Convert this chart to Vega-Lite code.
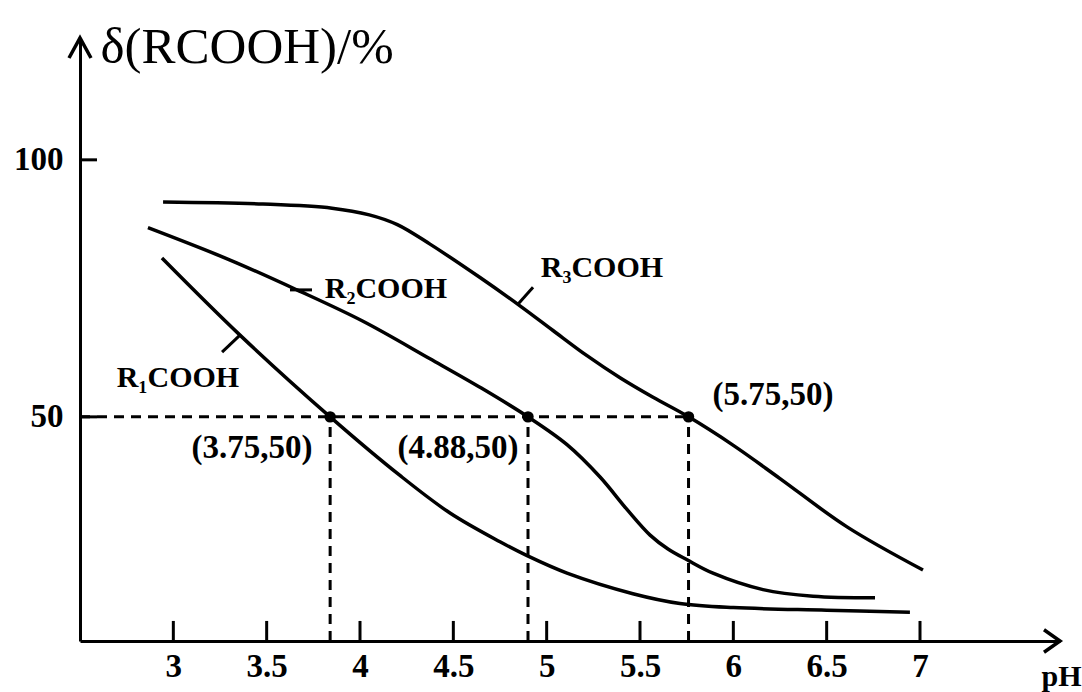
{
  "$schema": "https://vega.github.io/schema/vega-lite/v6.json",
  "width": 980,
  "height": 603,
  "autosize": {"type": "none"},
  "padding": {"left": 80, "top": 38, "right": 22, "bottom": 51},
  "background": "white",
  "config": {
    "view": {"stroke": null},
    "font": "Liberation Serif",
    "axis": {
      "grid": false,
      "ticks": false,
      "domainColor": "black",
      "domainWidth": 3,
      "labelColor": "black",
      "labelFont": "Liberation Serif",
      "labelFontWeight": "bold",
      "labelFontSize": 33,
      "titleColor": "black",
      "titleFont": "Liberation Serif"
    }
  },
  "datasets": {
    "curves": [
      {"series": "R3", "ph": 2.945, "pct": 91.8},
      {"series": "R3", "ph": 3.48, "pct": 91.4},
      {"series": "R3", "ph": 3.85, "pct": 90.6},
      {"series": "R3", "ph": 4.05, "pct": 89.3},
      {"series": "R3", "ph": 4.2, "pct": 87.4},
      {"series": "R3", "ph": 4.375, "pct": 83.6},
      {"series": "R3", "ph": 4.643, "pct": 77.1},
      {"series": "R3", "ph": 4.857, "pct": 71.6},
      {"series": "R3", "ph": 5.034, "pct": 66.8},
      {"series": "R3", "ph": 5.216, "pct": 61.9},
      {"series": "R3", "ph": 5.393, "pct": 57.6},
      {"series": "R3", "ph": 5.57, "pct": 53.8},
      {"series": "R3", "ph": 5.76, "pct": 50.0},
      {"series": "R3", "ph": 5.998, "pct": 44.5},
      {"series": "R3", "ph": 6.25, "pct": 38.0},
      {"series": "R3", "ph": 6.609, "pct": 28.6},
      {"series": "R3", "ph": 7.016, "pct": 20.2},
      {"series": "R2", "ph": 2.864, "pct": 86.8},
      {"series": "R2", "ph": 3.304, "pct": 80.5},
      {"series": "R2", "ph": 3.662, "pct": 74.7},
      {"series": "R2", "ph": 4.016, "pct": 68.6},
      {"series": "R2", "ph": 4.375, "pct": 61.3},
      {"series": "R2", "ph": 4.65, "pct": 55.6},
      {"series": "R2", "ph": 4.9, "pct": 50.0},
      {"series": "R2", "ph": 5.109, "pct": 44.6},
      {"series": "R2", "ph": 5.286, "pct": 38.3},
      {"series": "R2", "ph": 5.43, "pct": 32.0},
      {"series": "R2", "ph": 5.554, "pct": 27.0},
      {"series": "R2", "ph": 5.65, "pct": 24.3},
      {"series": "R2", "ph": 5.752, "pct": 22.2},
      {"series": "R2", "ph": 5.891, "pct": 19.6},
      {"series": "R2", "ph": 6.159, "pct": 16.4},
      {"series": "R2", "ph": 6.427, "pct": 15.1},
      {"series": "R2", "ph": 6.759, "pct": 14.8},
      {"series": "R1", "ph": 2.939, "pct": 80.9},
      {"series": "R1", "ph": 3.357, "pct": 65.9},
      {"series": "R1", "ph": 3.84, "pct": 50.0},
      {"series": "R1", "ph": 4.214, "pct": 38.6},
      {"series": "R1", "ph": 4.482, "pct": 31.3},
      {"series": "R1", "ph": 4.75, "pct": 25.7},
      {"series": "R1", "ph": 4.895, "pct": 23.0},
      {"series": "R1", "ph": 5.109, "pct": 19.6},
      {"series": "R1", "ph": 5.462, "pct": 15.6},
      {"series": "R1", "ph": 5.714, "pct": 13.7},
      {"series": "R1", "ph": 6.0, "pct": 12.9},
      {"series": "R1", "ph": 6.5, "pct": 12.4},
      {"series": "R1", "ph": 6.946, "pct": 12.0}
    ],
    "guides": [
      {"x": 2.5, "x2": 5.76, "y": 50, "y2": 50},
      {"x": 3.84, "x2": 3.84, "y": 6.4, "y2": 50},
      {"x": 4.9, "x2": 4.9, "y": 6.4, "y2": 50},
      {"x": 5.76, "x2": 5.76, "y": 6.4, "y2": 50}
    ],
    "tickmarks": [
      {"x": 3, "x2": 3, "y": 6.4, "y2": 10.3},
      {"x": 3.5, "x2": 3.5, "y": 6.4, "y2": 10.3},
      {"x": 4, "x2": 4, "y": 6.4, "y2": 10.3},
      {"x": 4.5, "x2": 4.5, "y": 6.4, "y2": 10.3},
      {"x": 5, "x2": 5, "y": 6.4, "y2": 10.3},
      {"x": 5.5, "x2": 5.5, "y": 6.4, "y2": 10.3},
      {"x": 6, "x2": 6, "y": 6.4, "y2": 10.3},
      {"x": 6.5, "x2": 6.5, "y": 6.4, "y2": 10.3},
      {"x": 7, "x2": 7, "y": 6.4, "y2": 10.3},
      {"x": 2.5, "x2": 2.591, "y": 50, "y2": 50},
      {"x": 2.5, "x2": 2.591, "y": 100, "y2": 100}
    ],
    "halfpoints": [
      {"ph": 3.84, "pct": 50, "label": "(3.75,50)", "lx": 3.421, "ly": 43.9},
      {"ph": 4.9, "pct": 50, "label": "(4.88,50)", "lx": 4.525, "ly": 43.9},
      {"ph": 5.76, "pct": 50, "label": "(5.75,50)", "lx": 6.212, "ly": 54.3}
    ],
    "names": [
      {"name": "R₁COOH", "lx": 3.025, "ly": 57.6, "x": 3.357, "y": 65.9, "x2": 3.261, "y2": 62.6},
      {"name": "R₂COOH", "lx": 4.139, "ly": 74.9, "x": 3.625, "y": 74.7, "x2": 3.743, "y2": 74.7},
      {"name": "R₃COOH", "lx": 5.296, "ly": 79.0, "x": 4.846, "y": 71.9, "x2": 4.927, "y2": 75.2}
    ],
    "arrows": [
      {"dir": "up", "ph": 2.5, "pct": 123.7},
      {"dir": "right", "ph": 7.75, "pct": 6.4}
    ]
  },
  "layer": [
    {
      "data": {"name": "curves"},
      "mark": {"type": "line", "color": "black", "strokeWidth": 3.5, "interpolate": "catmull-rom"},
      "encoding": {
        "x": {
          "field": "ph", "type": "quantitative",
          "scale": {"domain": [2.5, 7.75], "nice": false, "zero": false},
          "axis": {
            "values": [3, 3.5, 4, 4.5, 5, 5.5, 6, 6.5, 7],
            "labelExpr": "'' + datum.value",
            "labelPadding": 9,
            "title": "pH",
            "titleFontSize": 30,
            "titleFontWeight": "bold",
            "titleAngle": 0,
            "titleAlign": "center",
            "titleBaseline": "alphabetic",
            "titleX": 981,
            "titleY": 44
          }
        },
        "y": {
          "field": "pct", "type": "quantitative",
          "scale": {"domain": [6.4, 123.7], "nice": false, "zero": false},
          "axis": {
            "values": [50, 100],
            "labelPadding": 17,
            "title": "δ(RCOOH)/%",
            "titleFontSize": 51,
            "titleFontWeight": "normal",
            "titleAngle": 0,
            "titleAlign": "left",
            "titleBaseline": "alphabetic",
            "titleX": 20,
            "titleY": 24
          }
        },
        "detail": {"field": "series", "type": "nominal"}
      }
    },
    {
      "data": {"name": "tickmarks"},
      "mark": {"type": "rule", "color": "black", "strokeWidth": 3},
      "encoding": {
        "x": {"field": "x", "type": "quantitative"},
        "x2": {"field": "x2"},
        "y": {"field": "y", "type": "quantitative"},
        "y2": {"field": "y2"}
      }
    },
    {
      "data": {"name": "guides"},
      "mark": {"type": "rule", "color": "black", "strokeWidth": 3, "strokeDash": [10, 7]},
      "encoding": {
        "x": {"field": "x", "type": "quantitative"},
        "x2": {"field": "x2"},
        "y": {"field": "y", "type": "quantitative"},
        "y2": {"field": "y2"}
      }
    },
    {
      "data": {"name": "halfpoints"},
      "mark": {"type": "point", "filled": true, "color": "black", "size": 130, "opacity": 1},
      "encoding": {
        "x": {"field": "ph", "type": "quantitative"},
        "y": {"field": "pct", "type": "quantitative"}
      }
    },
    {
      "data": {"name": "halfpoints"},
      "mark": {"type": "text", "color": "black", "font": "Liberation Serif", "fontWeight": "bold", "fontSize": 33, "align": "center", "baseline": "middle"},
      "encoding": {
        "x": {"field": "lx", "type": "quantitative"},
        "y": {"field": "ly", "type": "quantitative"},
        "text": {"field": "label"}
      }
    },
    {
      "data": {"name": "names"},
      "mark": {"type": "text", "color": "black", "font": "Liberation Serif", "fontWeight": "bold", "fontSize": 30, "align": "center", "baseline": "middle"},
      "encoding": {
        "x": {"field": "lx", "type": "quantitative"},
        "y": {"field": "ly", "type": "quantitative"},
        "text": {"field": "name"}
      }
    },
    {
      "data": {"name": "names"},
      "mark": {"type": "rule", "color": "black", "strokeWidth": 3},
      "encoding": {
        "x": {"field": "x", "type": "quantitative"},
        "x2": {"field": "x2"},
        "y": {"field": "y", "type": "quantitative"},
        "y2": {"field": "y2"}
      }
    },
    {
      "data": {"name": "arrows"},
      "transform": [{"filter": "datum.dir === 'up'"}],
      "mark": {"type": "point", "shape": "M -0.55 1 L 0 0 L 0.55 1", "size": 1600, "filled": false, "color": "black", "strokeWidth": 3.5, "opacity": 1},
      "encoding": {
        "x": {"field": "ph", "type": "quantitative"},
        "y": {"field": "pct", "type": "quantitative"}
      }
    },
    {
      "data": {"name": "arrows"},
      "transform": [{"filter": "datum.dir === 'right'"}],
      "mark": {"type": "point", "shape": "M -1 -0.7 L 0 0 L -1 0.7", "size": 1024, "filled": false, "color": "black", "strokeWidth": 3.5, "opacity": 1},
      "encoding": {
        "x": {"field": "ph", "type": "quantitative"},
        "y": {"field": "pct", "type": "quantitative"}
      }
    }
  ]
}
